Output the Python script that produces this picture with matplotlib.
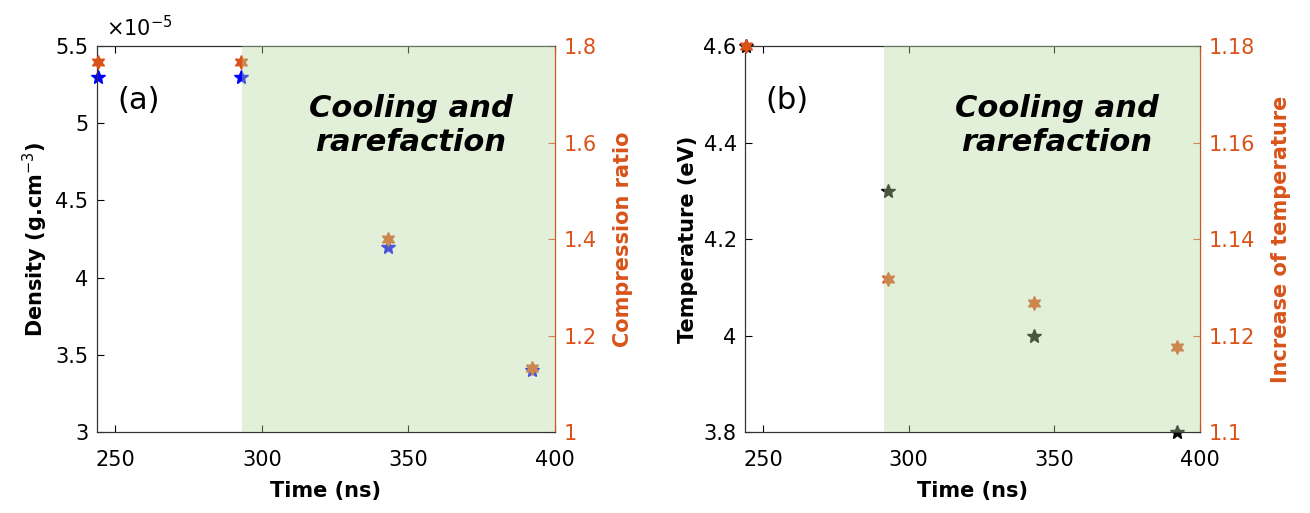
import matplotlib
matplotlib.use("Agg")
import matplotlib.pyplot as plt

# ---- data ----
time_ns = [244, 293, 343, 392]
density = [5.3e-5, 5.3e-5, 4.2e-5, 3.4e-5]
compression_ratio = [1.767, 1.767, 1.40, 1.133]
temperature_eV = [4.6, 4.3, 4.0, 3.8]
temp_increase = [1.18, 1.1318, 1.1268, 1.1176]

x_ticks = [250, 300, 350, 400]
dens_ticks = [3e-5, 3.5e-5, 4e-5, 4.5e-5, 5e-5, 5.5e-5]
comp_ticks = [1, 1.2, 1.4, 1.6, 1.8]
temp_ticks = [3.8, 4.0, 4.2, 4.4, 4.6]
tinc_ticks = [1.1, 1.12, 1.14, 1.16, 1.18]

shade_a = (293.4, 400)
shade_b = (291.5, 400)
panel_text = "Cooling and\nrarefaction"

ORANGE = (0.85, 0.325, 0.098)
SHADE = "#B7D7A0"
FONT = "DejaVu Sans"

plt.rcParams['font.family'] = [FONT]

fig = plt.figure(figsize=(13.1, 5.13), dpi=100)


def setup(rect, xs, yl, yr, lcolor, lticks, lfmt, rticks, lylim, rylim,
          llabel, rlabel, tag, shade):
    ax = fig.add_axes(rect)
    ax2 = ax.twinx()
    ax.plot(xs, yl, linestyle='none', marker='*', color=lcolor,
            markersize=10, zorder=3, clip_on=False)
    ax2.plot(xs, yr, linestyle='none', marker=(6, 1, 0), color=ORANGE,
             markersize=10, zorder=3, clip_on=False)
    ax.set_xlim(243.8, 400)
    ax.set_ylim(*lylim)
    ax2.set_ylim(*rylim)
    ax.set_xticks(x_ticks)
    ax.set_yticks(lticks)
    ax.set_yticklabels([lfmt(v) for v in lticks])
    ax2.set_yticks(rticks)
    ax2.set_yticklabels([f"{v:g}" for v in rticks])
    for a in (ax, ax2):
        a.tick_params(direction='in', length=5, width=0.8, labelsize=15)
    ax.tick_params(axis='x', top=True, pad=13)
    ax.tick_params(axis='y', pad=6)
    ax2.tick_params(axis='y', colors=ORANGE, labelcolor=ORANGE, pad=6)
    ax2.spines['right'].set_color(ORANGE)
    for s in ['left', 'bottom', 'top']:
        ax2.spines[s].set_color('#333333')
    ax.set_xlabel("Time (ns)", fontsize=15, fontweight='bold', labelpad=8)
    ax.set_ylabel(llabel, fontsize=15, fontweight='bold')
    ax2.set_ylabel(rlabel, fontsize=15, fontweight='bold', color=ORANGE,
                   labelpad=12)
    # shading drawn over the markers, as in the original figure
    ax2.axvspan(*shade, color=SHADE, alpha=0.4, lw=0, zorder=5)
    ax2.text(0.045, 0.86, tag, transform=ax2.transAxes, fontsize=22,
             va='center', zorder=6)
    ax2.text(0.685, 0.795, panel_text, transform=ax2.transAxes, fontsize=22,
             fontweight='bold', style='italic', ha='center', va='center',
             linespacing=1.2, zorder=6)
    return ax, ax2


ax, ax2 = setup([0.074, 0.158, 0.3497, 0.752], time_ns, density,
                compression_ratio, 'blue', dens_ticks,
                lambda v: f"{v * 1e5:g}", comp_ticks,
                (3e-5, 5.5e-5), (1, 1.8),
                "Density (g.cm$^{-3}$)", "Compression ratio", "(a)", shade_a)
ax.text(0.02, 1.015, r"$\times10^{-5}$", transform=ax.transAxes,
        fontsize=15, ha='left', va='bottom')

bx, bx2 = setup([0.5687, 0.158, 0.3473, 0.752], time_ns, temperature_eV,
                temp_increase, 'black', temp_ticks,
                lambda v: f"{v:g}", tinc_ticks,
                (3.8, 4.6), (1.1, 1.18),
                "Temperature (eV)", "Increase of temperature", "(b)", shade_b)

fig.savefig("out.png", dpi=100)
